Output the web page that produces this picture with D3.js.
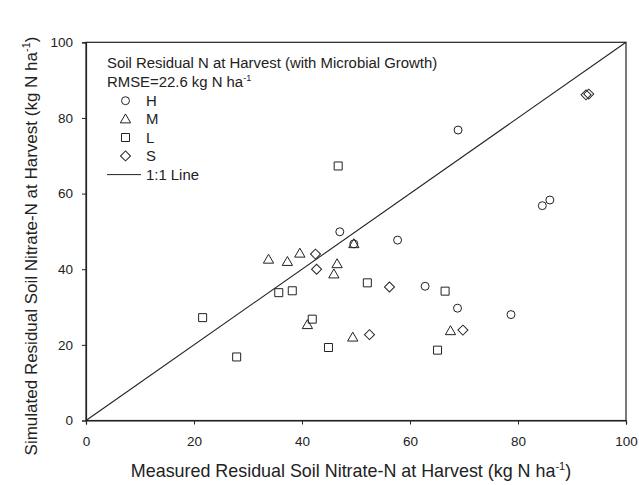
<!DOCTYPE html>
<html><head><meta charset="utf-8">
<script src="https://cdn.jsdelivr.net/npm/d3@7/dist/d3.min.js"></script>
<style>body{margin:0;background:#fff}svg{display:block}text{font-family:"Liberation Sans",Arial,sans-serif;fill:#222}</style>
</head><body>
<svg id="c" width="639" height="485"></svg>
<script>
const xTicks = [0,20,40,60,80,100];
const yTicks = [0,20,40,60,80,100];
const seriesNames = ["H","M","L","S"];
const H = [[68.9,76.8],[84.5,56.8],[85.9,58.3],[57.7,47.7],[62.8,35.5],[68.8,29.7],[78.7,28.0],[47.0,49.9],[49.6,46.7]];
const M = [[33.8,42.6],[37.3,42.0],[39.6,44.2],[46.5,41.4],[45.9,38.7],[41.0,25.3],[49.4,22.0],[67.5,23.7],[49.6,46.7]];
const L = [[46.7,67.3],[35.7,33.8],[38.2,34.3],[52.1,36.4],[66.5,34.2],[21.6,27.2],[41.9,26.8],[44.9,19.3],[27.9,16.8],[65.1,18.6]];
const S = [[92.6,86.1],[93.1,86.3],[42.5,44.0],[42.7,40.0],[56.2,35.3],[52.5,22.7],[69.8,23.9]];
const oneToOne = [[0,0],[100,100]];

const svg = d3.select("#c");
const x = d3.scaleLinear().domain([0,100]).range([86,626]);
const y = d3.scaleLinear().domain([0,100]).range([420.5,42.3]);
const ink = "#222";
const FF = '"Liberation Sans",Arial,sans-serif';

// frame
svg.append("rect").attr("x",x(0)).attr("y",y(100)).attr("width",x(100)-x(0)).attr("height",y(0)-y(100))
  .attr("fill","none").attr("stroke",ink).attr("stroke-width",1.2);

const xa = svg.append("g").attr("transform",`translate(0,${y(0)})`)
  .call(d3.axisBottom(x).tickValues(xTicks).tickSize(4).tickPadding(12).tickFormat(d3.format("d")));
const ya = svg.append("g").attr("transform",`translate(${x(0)},0)`)
  .call(d3.axisLeft(y).tickValues(yTicks).tickSize(4).tickPadding(9).tickFormat(d3.format("d")));
[xa,ya].forEach(a=>{
  a.select(".domain").attr("stroke",ink).attr("stroke-width",1.2);
  a.selectAll(".tick line").attr("stroke",ink);
  a.selectAll(".tick text").attr("font-size",13.5).attr("fill",ink).style("font-family",FF);
});

// 1:1 line
svg.append("path").datum(oneToOne).attr("d",d3.line().x(d=>x(d[0])).y(d=>y(d[1])))
  .attr("stroke",ink).attr("stroke-width",1.1).attr("fill","none");

const shapes = {H:d3.symbolCircle, M:d3.symbolTriangle, L:d3.symbolSquare, S:d3.symbolSquare};
const sizes = {H:50, M:46, L:64, S:50};
const rot = {H:0, M:0, L:0, S:45};
const dy = {H:0, M:0.8, L:0, S:0};
const data = {H,M,L,S};
seriesNames.forEach(n=>{
  const sym = d3.symbol().type(shapes[n]).size(sizes[n]);
  svg.append("g").selectAll("path").data(data[n]).join("path")
    .attr("d",sym).attr("transform",d=>`translate(${x(d[0])},${y(d[1]) + dy[n]}) rotate(${rot[n]})`)
    .attr("fill","none").attr("stroke",ink).attr("stroke-width",1);
});

// legend
const lg = svg.append("g");
const LF = 14.9;
lg.append("text").attr("x",107).attr("y",67.8).attr("font-size",LF).text("Soil Residual N at Harvest (with Microbial Growth)");
const t2 = lg.append("text").attr("x",107).attr("y",86.5).attr("font-size",LF);
t2.append("tspan").text("RMSE=22.6 kg N ha");
t2.append("tspan").attr("font-size",9).attr("dy",-6).text("-1");
seriesNames.forEach((n,i)=>{
  const cy = 100.7 + i*18.4;
  lg.append("path").attr("d",d3.symbol().type(shapes[n]).size(sizes[n])())
    .attr("transform",`translate(125.5,${cy + dy[n]}) rotate(${rot[n]})`).attr("fill","none").attr("stroke",ink).attr("stroke-width",1);
  lg.append("text").attr("x",146).attr("y",cy+5.3).attr("font-size",LF).text(n);
});
lg.append("line").attr("x1",107).attr("x2",141).attr("y1",174.6).attr("y2",174.6).attr("stroke",ink).attr("stroke-width",1);
lg.append("text").attr("x",146).attr("y",179.9).attr("font-size",LF).text("1:1 Line");

// axis titles
const xt = svg.append("text").attr("x",351).attr("y",477).attr("text-anchor","middle").attr("font-size",17.9);
xt.append("tspan").text("Measured Residual Soil Nitrate-N at Harvest (kg N ha");
xt.append("tspan").attr("font-size",11).attr("dy",-7).text("-1");
xt.append("tspan").attr("dy",7).text(")");
const yt = svg.append("text").attr("transform",`translate(37,246) rotate(-90)`).attr("text-anchor","middle").attr("font-size",17);
yt.append("tspan").text("Simulated Residual Soil Nitrate-N at Harvest (kg N ha");
yt.append("tspan").attr("font-size",11).attr("dy",-7).text("-1");
yt.append("tspan").attr("dy",7).text(")");
</script>
</body></html>
